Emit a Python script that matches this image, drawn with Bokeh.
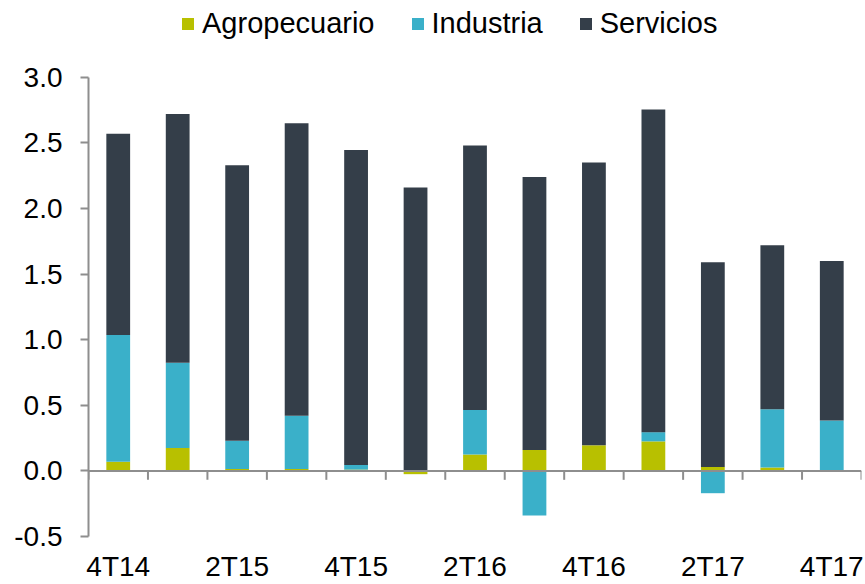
from bokeh.plotting import figure
from bokeh.models import (Range1d, FixedTicker, NumeralTickFormatter, Span,
                          Legend, LegendItem, ColumnDataSource)
from bokeh.embed import file_html
from bokeh.resources import INLINE

# ---------------- data ----------------
quarters = ["4T14", "1T15", "2T15", "3T15", "4T15", "1T16", "2T16",
            "3T16", "4T16", "1T17", "2T17", "3T17", "4T17"]
agropecuario = [0.07, 0.175, 0.015, 0.015, 0.01, -0.025, 0.125,
                0.16, 0.195, 0.225, 0.03, 0.025, 0.0]
industria = [0.965, 0.65, 0.215, 0.405, 0.035, 0.0, 0.34,
             -0.34, 0.0, 0.07, -0.17, 0.445, 0.385]
servicios = [1.535, 1.895, 2.10, 2.23, 2.40, 2.16, 2.015,
             2.08, 2.155, 2.46, 1.56, 1.25, 1.215]
series_names = ["Agropecuario", "Industria", "Servicios"]
y_ticks = [-0.5, 0.0, 0.5, 1.0, 1.5, 2.0, 2.5, 3.0]
label_every = 2

# ---------------- style ----------------
colors = ["#B8C000", "#3AB0C9", "#343E49"]
axis_color = "#8E8E8E"
FONT = "Liberation Sans"
HEADROOM = 0.585   # space above the 3.0 tick reserved for the legend (data units)

n = len(quarters)
xs = [i + 0.5 for i in range(n)]

p = figure(width=865, height=584, output_backend="svg", toolbar_location=None,
           x_range=Range1d(0, n),
           y_range=Range1d(y_ticks[0], y_ticks[-1] + HEADROOM),
           min_border_left=88, min_border_right=4, min_border_top=0,
           min_border_bottom=46)
p.outline_line_color = None
p.xgrid.visible = False
p.ygrid.visible = False
p.background_fill_color = "white"
p.border_fill_color = "white"

# Excel-style stacking: positives upward, negatives downward
pos_base = [0.0] * n
neg_base = [0.0] * n
renderers = []
for name, vals, col in zip(series_names, [agropecuario, industria, servicios], colors):
    bottoms, tops = [], []
    for i, v in enumerate(vals):
        if v >= 0:
            b = pos_base[i]
            t = b + v
            pos_base[i] = t
        else:
            t = neg_base[i]
            b = t + v
            neg_base[i] = b
        bottoms.append(b)
        tops.append(t)
    src = ColumnDataSource(dict(x=xs, bottom=bottoms, top=tops))
    r = p.vbar(x="x", bottom="bottom", top="top", width=0.4, source=src,
               fill_color=col, line_color=None)
    renderers.append((name, r))

# category axis line at zero with tick marks below it
p.add_layout(Span(location=0, dimension="width", line_color=axis_color, line_width=2))
bounds = list(range(n + 1))
p.segment(x0=bounds, y0=[0] * len(bounds), x1=bounds, y1=[-0.068] * len(bounds),
          line_color=axis_color, line_width=2)

# y axis
yax = p.yaxis[0]
yax.ticker = FixedTicker(ticks=y_ticks)
yax.bounds = (y_ticks[0], y_ticks[-1])
yax.formatter = NumeralTickFormatter(format="0.0")
yax.axis_line_color = axis_color
yax.axis_line_width = 2
yax.major_tick_line_color = axis_color
yax.major_tick_line_width = 2
yax.major_tick_out = 8
yax.major_tick_in = 0
yax.minor_tick_line_color = None
yax.major_label_text_font = FONT
yax.major_label_text_font_size = "28px"
yax.major_label_text_color = "black"
yax.major_label_standoff = 18

# x axis (labels only, at bottom)
xax = p.xaxis[0]
label_pos = [xs[i] for i in range(0, n, label_every)]
xax.ticker = FixedTicker(ticks=label_pos)
xax.major_label_overrides = {xs[i]: quarters[i] for i in range(0, n, label_every)}
xax.axis_line_color = None
xax.major_tick_line_color = None
xax.minor_tick_line_color = None
xax.major_tick_out = 0
xax.major_tick_in = 0
xax.major_label_text_font = FONT
xax.major_label_text_font_size = "28px"
xax.major_label_text_color = "black"
xax.major_label_standoff = 14

legend = Legend(items=[LegendItem(label=nm, renderers=[r]) for nm, r in renderers],
                orientation="horizontal", location=(92, 496),
                label_text_font=FONT, label_text_font_size="29px",
                label_text_color="black", glyph_width=15, glyph_height=15,
                label_standoff=7, spacing=35, padding=0, margin=0,
                border_line_color=None, background_fill_alpha=0)
p.add_layout(legend, "center")

open("out.html", "w").write(file_html(p, INLINE))
